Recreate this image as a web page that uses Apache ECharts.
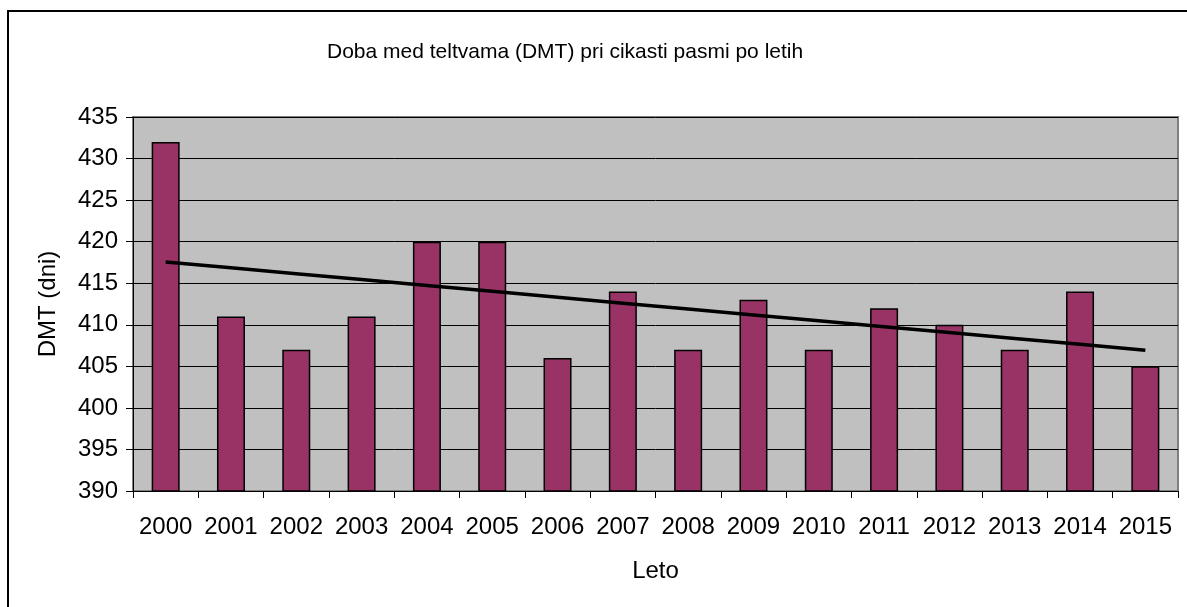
<!DOCTYPE html>
<html>
<head>
<meta charset="utf-8">
<script src="https://cdn.jsdelivr.net/npm/echarts@6/dist/echarts.min.js"></script>
<style>
html,body{margin:0;padding:0;background:#fff;}
#chart{width:1187px;height:607px;}
</style>
</head>
<body>
<div id="chart"></div>
<script>
const years = ['2000','2001','2002','2003','2004','2005','2006','2007','2008','2009','2010','2011','2012','2013','2014','2015'];
const dmt = [432, 411, 407, 411, 420, 420, 406, 414, 407, 413, 407, 412, 410, 407, 414, 405];
const titleText = 'Doba med teltvama (DMT) pri cikasti pasmi po letih';
const yName = 'DMT (dni)';
const xName = 'Leto';

// linear trend line (least squares) from the data, as in the original spreadsheet
const n = dmt.length;
const mx = (n - 1) / 2;
const my = dmt.reduce((a, b) => a + b, 0) / n;
let sxy = 0, sxx = 0;
dmt.forEach((v, i) => { sxy += (i - mx) * (v - my); sxx += (i - mx) * (i - mx); });
const slope = sxy / sxx;
const trend = dmt.map((v, i) => +(my + slope * (i - mx)).toFixed(3));

const FONT = "'Liberation Sans', Arial, sans-serif";
const chart = echarts.init(document.getElementById('chart'));
chart.setOption({
  animation: false,
  backgroundColor: '#fff',
  title: {
    text: titleText,
    left: 322, top: 37,
    textStyle: {fontFamily: FONT, fontSize: 21, fontWeight: 'normal', color: '#000'}
  },
  graphic: [{
    type: 'rect', shape: {x: 8, y: 11, width: 1220, height: 640},
    style: {fill: 'none', stroke: '#000', lineWidth: 2}, z: 100
  }],
  grid: {left: 133, top: 117, right: 9, bottom: 116, show: true,
    backgroundColor: '#C0C0C0', borderColor: '#808080', borderWidth: 2},
  xAxis: {
    type: 'category', data: years,
    name: xName, nameLocation: 'middle', nameGap: 68,
    nameTextStyle: {fontFamily: FONT, fontSize: 24, color: '#000'},
    axisLine: {lineStyle: {color: '#000', width: 1}},
    axisTick: {show: true, length: 7, lineStyle: {color: '#000'}},
    axisLabel: {fontFamily: FONT, fontSize: 24, color: '#000', margin: 24, interval: 0},
    splitLine: {show: false}
  },
  yAxis: {
    type: 'value', min: 390, max: 435, interval: 5,
    name: yName, nameLocation: 'middle', nameGap: 73,
    nameTextStyle: {fontFamily: FONT, fontSize: 24, color: '#000'},
    axisLine: {show: true, lineStyle: {color: '#000', width: 1}},
    axisTick: {show: true, length: 7, lineStyle: {color: '#000'}},
    axisLabel: {fontFamily: FONT, fontSize: 24, color: '#000', margin: 15},
    splitLine: {show: true, lineStyle: {color: '#000', width: 1}}
  },
  series: [{
    type: 'bar', data: dmt, barWidth: 28,
    itemStyle: {color: '#993366', borderColor: '#000', borderWidth: 1.5}
  }, {
    type: 'line', data: trend, symbol: 'none', z: 5,
    lineStyle: {color: '#000', width: 3.5}
  }]
});
</script>
</body>
</html>
